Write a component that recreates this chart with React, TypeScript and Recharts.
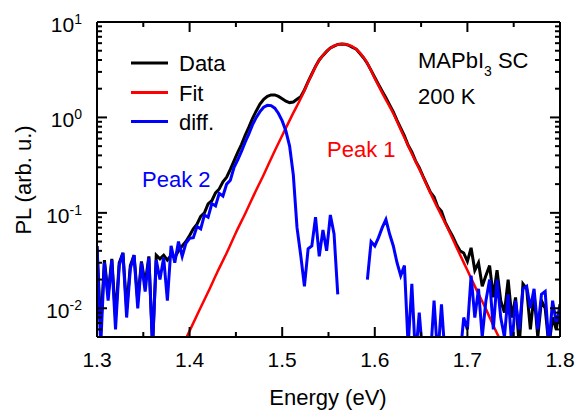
import React from "react";
import { Line, LineChart, XAxis, YAxis } from "recharts";

const FONT = '"Liberation Sans", Arial, Helvetica, sans-serif';

// measured spectrum: energy grid starts at 1.300 eV, 4 meV step
const E_START = 1.3;
const E_STEP = 0.004;

const dataPL = [
  0.045, 0.006, 0.032, 0.014, 0.033, 0.008, 0.03, 0.038, 0.01, 0.028, 0.036, 0.012, 0.031, 0.018, 0.035, 0.004,
  0.036, 0.033, 0.036, 0.032, 0.036, 0.034, 0.04, 0.045, 0.05, 0.058,
  0.068, 0.076, 0.092, 0.1, 0.124, 0.134, 0.162, 0.178, 0.212, 0.236, 0.285, 0.35, 0.43, 0.52, 0.65, 0.79, 0.98,
  1.17, 1.38, 1.55, 1.66, 1.72, 1.72, 1.66, 1.57, 1.48, 1.43, 1.45, 1.55, 1.65,
  1.94, 2.37, 2.85, 3.43, 4.0, 4.47, 4.92, 5.34, 5.59, 5.83, 5.89, 5.85, 5.69, 5.43, 5.19, 4.67, 4.2, 3.67, 3.11,
  2.62, 2.21, 1.88, 1.61, 1.35, 1.14, 0.93, 0.77, 0.64, 0.51, 0.435, 0.35, 0.297, 0.242, 0.2, 0.165, 0.147, 0.115,
  0.104, 0.08, 0.067, 0.057, 0.047, 0.04, 0.038, 0.031, 0.043, 0.025, 0.03, 0.017, 0.022, 0.028, 0.013, 0.025,
  0.012, 0.009, 0.02, 0.008, 0.013, 0.004, 0.018, 0.016, 0.006, 0.014, 0.005, 0.012, 0.01, 0.004, 0.008, 0.006, 0.011,
];

// data minus fit (null where it goes negative)
const diffPL = [
  0.045, 0.004, 0.03, 0.012, 0.032, 0.006, 0.028, 0.038, 0.008, 0.026, 0.036, 0.01, 0.03, 0.015, 0.034, 0.004,
  0.032, 0.02, 0.034, 0.012, 0.045, 0.03, 0.05, 0.035, 0.048, 0.054,
  0.055, 0.072, 0.068, 0.095, 0.09, 0.125, 0.118, 0.16, 0.15, 0.2, 0.22, 0.3, 0.36, 0.44, 0.55, 0.67, 0.84,
  1.0, 1.15, 1.28, 1.34, 1.33, 1.25, 1.1, 0.92, 0.72, 0.5, 0.25, 0.07, 0.036,
  0.017, 0.042, 0.045, 0.09, 0.035, 0.066, 0.04, 0.095, 0.06, 0.014, null, null, null, null, null, null, null, 0.02, 0.05,
  0.045, 0.055, 0.07, 0.085, 0.06, 0.045, 0.03, 0.022, 0.028, 0.004, 0.018, 0.003, 0.009, 0.003, 0.003, 0.003, 0.012, 0.003,
  0.011, 0.003, 0.003, 0.003, 0.003, 0.003, 0.008, 0.006, 0.022, 0.008, 0.016, 0.005, 0.012, 0.02, 0.006, 0.02,
  0.008, 0.005, 0.014, 0.004, 0.012, 0.006, 0.016, 0.017, 0.01, 0.016, 0.006, 0.014, 0.015, 0.004, 0.012, 0.007, 0.01,
];

// Peak 1 fit
const fitE = [
  1.39, 1.4, 1.41, 1.42, 1.43, 1.44, 1.45, 1.46, 1.47, 1.48, 1.49, 1.5, 1.51, 1.52, 1.53, 1.54, 1.55, 1.56, 1.565,
  1.57, 1.58, 1.59, 1.6, 1.61, 1.62, 1.63, 1.64, 1.65, 1.66, 1.67, 1.68, 1.69, 1.7, 1.71, 1.72, 1.73, 1.74,
];
const fitPL = [
  0.0036, 0.0058, 0.0093, 0.0148, 0.024, 0.038, 0.062, 0.098, 0.158, 0.251, 0.407, 0.646, 1.02, 1.58, 2.57, 3.98,
  5.13, 5.82, 5.89, 5.82, 5.19, 3.98, 2.57, 1.66, 1.1, 0.676, 0.417, 0.263, 0.162, 0.102, 0.065, 0.04, 0.025, 0.0155,
  0.0098, 0.006, 0.0038,
];

const xTicks = [1.3, 1.35, 1.4, 1.45, 1.5, 1.55, 1.6, 1.65, 1.7, 1.75, 1.8];
const yTicks = [
  0.006, 0.007, 0.008, 0.009, 0.01, 0.02, 0.03, 0.04, 0.05, 0.06, 0.07, 0.08, 0.09, 0.1, 0.2, 0.3, 0.4, 0.5, 0.6, 0.7,
  0.8, 0.9, 1, 2, 3, 4, 5, 6, 7, 8, 9, 10,
];

const spectrum = dataPL.map((pl, i) => ({ e: E_START + i * E_STEP, pl, diff: diffPL[i] }));
const fitRows = fitE.map((e, i) => ({ e, fit: fitPL[i] }));

const isMajorX = (v: number) => Math.abs(v * 10 - Math.round(v * 10)) < 1e-6;
const isMajorY = (v: number) => Math.abs(Math.log10(v) - Math.round(Math.log10(v))) < 1e-6;

function BottomTick({ x, y, payload }: any) {
  const major = isMajorX(payload.value);
  return (
    <g>
      <line x1={x} x2={x} y1={y} y2={y - (major ? 10 : 5)} stroke="#000" strokeWidth={2} />
      {major && (
        <text x={x} y={y + 30} textAnchor="middle" fontSize={21} fontFamily={FONT} fill="#000">
          {payload.value.toFixed(1)}
        </text>
      )}
    </g>
  );
}

function TopTick({ x, y, payload }: any) {
  const major = isMajorX(payload.value);
  return <line x1={x} x2={x} y1={y} y2={y + (major ? 10 : 5)} stroke="#000" strokeWidth={2} />;
}

function LeftTick({ x, y, payload }: any) {
  const major = isMajorY(payload.value);
  const exp = Math.round(Math.log10(payload.value));
  return (
    <g>
      <line x1={x} x2={x + (major ? 10 : 5)} y1={y} y2={y} stroke="#000" strokeWidth={2} />
      {major && (
        <text x={x - 15} y={y + 10} textAnchor="end" fontSize={21} fontFamily={FONT} fill="#000">
          10<tspan dy={-8} fontSize={14}>{exp < 0 ? `-${-exp}` : exp}</tspan>
        </text>
      )}
    </g>
  );
}

function RightTick({ x, y, payload }: any) {
  const major = isMajorY(payload.value);
  return <line x1={x} x2={x - (major ? 10 : 5)} y1={y} y2={y} stroke="#000" strokeWidth={2} />;
}

const axisLine = { stroke: "#000", strokeWidth: 2 };

export default function App() {
  return (
    <div style={{ position: "absolute", left: 0, top: 0, width: 579, height: 412, background: "#fff" }}>
      <LineChart width={579} height={412} margin={{ top: 21, right: 18, bottom: 0, left: 0 }}>
        <XAxis xAxisId="b" dataKey="e" type="number" domain={[1.3, 1.8]} allowDataOverflow ticks={xTicks} interval={0}
          height={75} tickLine={false} tickSize={0} tickMargin={0} axisLine={axisLine} tick={(p: any) => <BottomTick {...p} />} />
        <XAxis xAxisId="t" dataKey="e" type="number" orientation="top" domain={[1.3, 1.8]} allowDataOverflow ticks={xTicks}
          interval={0} height={1} tickLine={false} tickSize={0} tickMargin={0} axisLine={axisLine} tick={(p: any) => <TopTick {...p} />} />
        <YAxis yAxisId="l" scale="log" type="number" domain={[0.005, 10]} allowDataOverflow ticks={yTicks} interval={0}
          width={97} tickLine={false} tickSize={0} tickMargin={0} axisLine={axisLine} tick={(p: any) => <LeftTick {...p} />} />
        <YAxis yAxisId="r" orientation="right" scale="log" type="number" domain={[0.005, 10]} allowDataOverflow ticks={yTicks}
          interval={0} width={1} tickLine={false} tickSize={0} tickMargin={0} axisLine={axisLine} tick={(p: any) => <RightTick {...p} />} />
        <Line xAxisId="b" yAxisId="l" data={spectrum} dataKey="pl" type="linear" stroke="#000" strokeWidth={3}
          dot={false} activeDot={false} isAnimationActive={false} />
        <Line xAxisId="b" yAxisId="l" data={fitRows} dataKey="fit" type="monotone" stroke="#ff0000" strokeWidth={2.5}
          dot={false} activeDot={false} isAnimationActive={false} />
        <Line xAxisId="b" yAxisId="l" data={spectrum} dataKey="diff" type="linear" stroke="#0000ff" strokeWidth={3}
          dot={false} activeDot={false} isAnimationActive={false} />
      </LineChart>
      <svg width={579} height={412} style={{ position: "absolute", left: 0, top: 0, pointerEvents: "none" }}
        fontFamily={FONT} fontSize={22}>
        <text transform="rotate(-90)" x={-180} y={31} textAnchor="middle" fill="#000">PL (arb. u.)</text>
        <text x={328} y={405} textAnchor="middle" fill="#000">Energy (eV)</text>
        <line x1={131} x2={168} y1={63} y2={63} stroke="#000" strokeWidth={3} />
        <line x1={131} x2={168} y1={92.5} y2={92.5} stroke="#ff0000" strokeWidth={3} />
        <line x1={131} x2={168} y1={121.5} y2={121.5} stroke="#0000ff" strokeWidth={3} />
        <text x={179} y={71} fill="#000">Data</text>
        <text x={179} y={100.5} fill="#000">Fit</text>
        <text x={179} y={129.5} fill="#000">diff.</text>
        <text x={418} y={68} fill="#000">
          MAPbI<tspan dy={8} fontSize={14}>3</tspan><tspan dy={-8}> SC</tspan>
        </text>
        <text x={418} y={104} fill="#000">200 K</text>
        <text x={327} y={157} fill="#ff0000">Peak 1</text>
        <text x={142} y={187} fill="#0000ff">Peak 2</text>
      </svg>
    </div>
  );
}
